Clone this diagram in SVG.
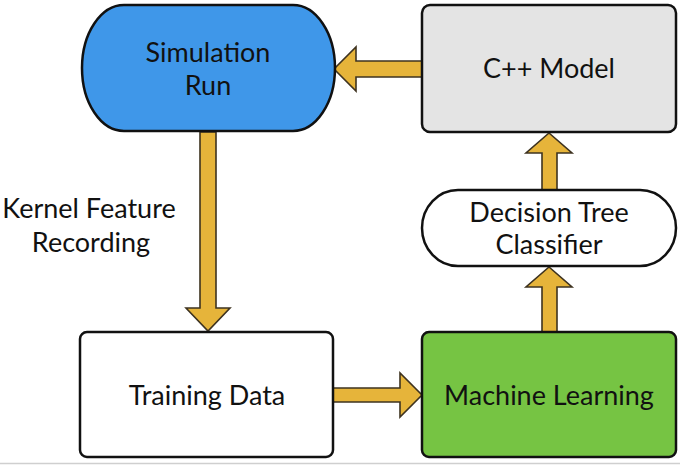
<svg xmlns="http://www.w3.org/2000/svg" width="680" height="465" viewBox="0 0 680 465">
<style>
.node{stroke:#111;stroke-width:2.5}
.arrow{fill:#e6b43a;stroke:#3e3320;stroke-width:1.6;stroke-linejoin:miter}
text{font-family:Lato,"Open Sans","Liberation Sans",sans-serif;font-size:27px;fill:#111;text-anchor:middle}
</style>
<rect x="0" y="0" width="680" height="465" fill="#ffffff"/>
<line x1="0" y1="463.5" x2="680" y2="463.5" stroke="#cfcfcf" stroke-width="1.5"/>
<g id="connectors">
<polygon class="arrow" points="422,61 356,61 356,47 334,69 356,91 356,77 422,77"/>
<polygon class="arrow" points="200,132 216,132 216,308 230,308 208,331 186,308 200,308"/>
<polygon class="arrow" points="333,388 400,388 400,373 422,395 400,417 400,402 333,402"/>
<polygon class="arrow" points="542,190 542,153 526,153 549,133 572,153 557,153 557,190"/>
<polygon class="arrow" points="542,332 542,287 526,287 549,267 572,287 557,287 557,332"/>
</g>
<g id="label-kernel">
<text x="89" y="218">Kernel Feature</text>
<text x="91" y="252">Recording</text>
</g>
<g id="simulation-run">
<rect class="node" x="82" y="5" width="253" height="126" rx="42" ry="63" fill="#3f97e9"/>
<text x="208" y="62">Simulation</text>
<text x="208" y="95">Run</text>
</g>
<g id="cpp-model">
<rect class="node" x="422" y="5" width="254" height="127" rx="8" fill="#e4e4e4"/>
<text x="549" y="78">C++ Model</text>
</g>
<g id="decision-tree">
<rect class="node" x="422" y="190" width="254" height="76" rx="36" ry="38" fill="#ffffff"/>
<text x="549" y="222">Decision Tree</text>
<text x="549" y="254">Classifier</text>
</g>
<g id="training-data">
<rect class="node" x="80" y="332" width="253" height="125" rx="7" fill="#ffffff"/>
<text x="207" y="405">Training Data</text>
</g>
<g id="machine-learning">
<rect class="node" x="422" y="332" width="254" height="125" rx="7" fill="#76c443"/>
<text x="549" y="405">Machine Learning</text>
</g>
</svg>
